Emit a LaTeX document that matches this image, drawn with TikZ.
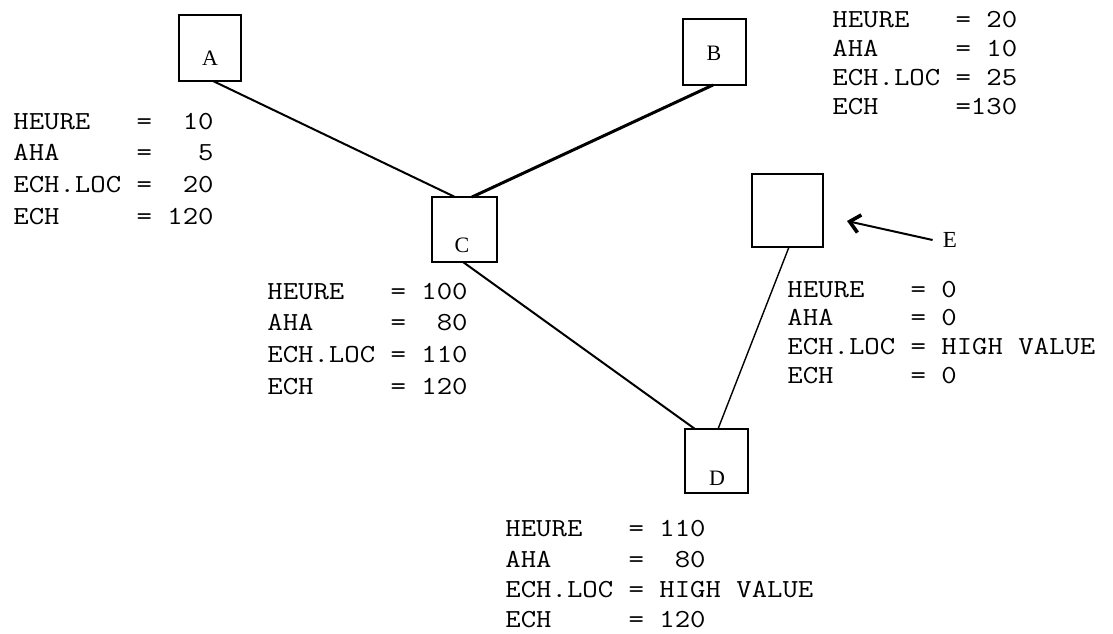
\documentclass[tikz,border=0pt]{standalone}
\usepackage{fontspec}
\usepackage{graphicx}
\setmainfont{Liberation Serif}
\usetikzlibrary{arrows.meta}
\newcommand\twrow[1]{\scalebox{1.15}[1]{#1}}
\begin{document}
\begin{tikzpicture}[x=0.5pt,y=-0.5pt,
  bx/.style={draw,line width=1.4pt,inner sep=0pt,outer sep=0pt},
  lbl/.style={font=\fontsize{11}{13}\selectfont,inner sep=0pt},
  row/.style={font=\ttfamily\fontsize{13}{15}\selectfont\addfontfeature{FakeBold=0.4},anchor=base west,inner sep=0pt},
  link/.style={line width=1pt}]
\useasboundingbox[fill=white] (0,0) rectangle (1113,633);
% boxes
\node[bx,minimum width=31pt,minimum height=33pt] (A) at (210,48) {};
\node[bx,minimum width=31.5pt,minimum height=33pt] (B) at (714.5,52) {};
\node[bx,minimum width=32.5pt,minimum height=32.5pt] (C) at (464.5,229.5) {};
\node[bx,minimum width=35.5pt,minimum height=36.5pt] (E) at (787.5,210.5) {};
\node[bx,minimum width=31.5pt,minimum height=32pt] (D) at (716.5,461) {};
% box labels
\node[lbl] (lA) at (210,58) {A};
\node[lbl] (lB) at (714,53) {B};
\node[lbl] (lC) at (462,245) {C};
\node[lbl] (lD) at (717,478) {D};
% connectors
\draw[link] ([xshift=1.5pt]A.south) -- ([xshift=-4.75pt]C.north);
\draw[link,line width=1.5pt] ([xshift=-0.75pt]B.south) -- ([xshift=3.75pt]C.north);
\draw[link] ([xshift=-0.75pt]C.south) -- ([xshift=-10.75pt]D.north);
\draw[link,line width=0.7pt] ([xshift=0.75pt]E.south) -- ([xshift=0.75pt]D.north);
% E pointer
\node[lbl,font=\fontsize{11.5}{13}\selectfont] (lE) at (950,240) {E};
\coordinate (tip) at (847,221);
\draw[line width=1pt,-{Straight Barb[length=5pt,width=9pt,line width=1.8pt]}] ([xshift=-5pt]lE.west) -- (tip);
% A block
\node[row] (a1) at (13,129.5) {\twrow{HEURE~~~=~~10}};
\node[row] (a2) at (13,160.5) {\twrow{AHA~~~~~=~~~5}};
\node[row] (a3) at (13,192.5) {\twrow{ECH.LOC~=~~20}};
\node[row] (a4) at (13,224.5) {\twrow{ECH~~~~~=~120}};
% B block
\node[row] (b1) at (832,27.5) {\twrow{HEURE~~~=~20}};
\node[row] (b2) at (832,56.5) {\twrow{AHA~~~~~=~10}};
\node[row] (b3) at (832,85.5) {\twrow{ECH.LOC~=~25}};
\node[row] (b4) at (832,114.5) {\twrow{ECH~~~~~=130}};
% C block
\node[row] (c1) at (267,299.5) {\twrow{HEURE~~~=~100}};
\node[row] (c2) at (267,330.5) {\twrow{AHA~~~~~=~~80}};
\node[row] (c3) at (267,362.5) {\twrow{ECH.LOC~=~110}};
\node[row] (c4) at (267,394.5) {\twrow{ECH~~~~~=~120}};
% E block
\node[row] (e1) at (787,297.5) {\twrow{HEURE~~~=~0}};
\node[row] (e2) at (787,325.5) {\twrow{AHA~~~~~=~0}};
\node[row] (e3) at (787,354.5) {\twrow{ECH.LOC~=~HIGH~VALUE}};
\node[row] (e4) at (787,383.5) {\twrow{ECH~~~~~=~0}};
% D block
\node[row] (d1) at (505,536.5) {\twrow{HEURE~~~=~110}};
\node[row] (d2) at (505,567.5) {\twrow{AHA~~~~~=~~80}};
\node[row] (d3) at (505,597.5) {\twrow{ECH.LOC~=~HIGH~VALUE}};
\node[row] (d4) at (505,627.5) {\twrow{ECH~~~~~=~120}};
\end{tikzpicture}
\end{document}
